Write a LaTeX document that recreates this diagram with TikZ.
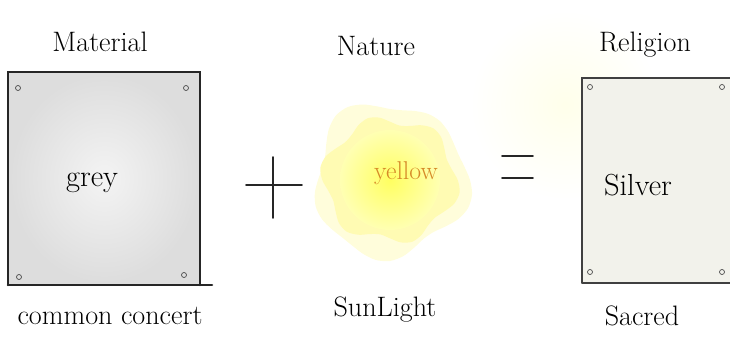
\documentclass[tikz,border=0pt]{standalone}
\usetikzlibrary{calc, positioning}

\definecolor{ochre}{RGB}{214,138,40}
\definecolor{paper}{RGB}{242,242,235}

\begin{document}
\begin{tikzpicture}[
    x=0.03cm, y=-0.03cm, % 1 unit = 1 pixel
    title/.style={font=\fontsize{24}{28}\selectfont, text=black},
    word/.style={font=\fontsize{26}{30}\selectfont, text=black},
    screw/.style={draw=black!70, line width=0.6pt},
    frame/.style={line width=2.2pt, black!85, line cap=round},
    thinframe/.style={line width=1.1pt, black!75, line cap=round},
    sign/.style={line width=1.4pt, black!85, line cap=round},
  ]

  \useasboundingbox (0,0) rectangle (730,340);

  % Glow
  \shade[inner color=yellow!8, outer color=white] (565,105) circle (95);

  % Material
  \coordinate (M1) at (8,72);
  \coordinate (M2) at (200,285);
  \shade[inner color=gray!9, outer color=gray!27] (M1) rectangle (M2);
  \draw[frame] (M1 |- M2) -- (M1) -- (M2 |- M1) -- (M2);
  \draw[frame] (M1 |- M2) -- ($(M2)+(12,0)$);
  \foreach \p in {(18,88),(186,88),(19,277),(184,275)}
    \draw[screw] \p circle (2.5);

  \node[title] (material) at (100,42) {Material};
  \node[word]  (grey)     at (92,183) {grey};
  \node[title] (common)   at (110,316) {common concert};

  % Plus
  \draw[sign] (246,185) -- (302,185);
  \draw[sign] (273,157) -- (273,218);

  % Nature
  \def\sx{390}
  \def\sy{180}
  \coordinate (S) at (\sx,\sy);
  \fill[yellow!14] plot[smooth cycle, domain=0:350, samples=36, variable=\t]
    ({\sx+(76+5*sin(5*\t)+4*cos(3*\t))*cos(\t)}, {\sy+(76+5*sin(5*\t)+4*cos(3*\t))*sin(\t)});
  \fill[yellow!30] plot[smooth cycle, domain=0:350, samples=36, variable=\t]
    ({\sx+(63+5*sin(6*\t+20)+3*cos(2*\t))*cos(\t)}, {\sy+(63+5*sin(6*\t+20)+3*cos(2*\t))*sin(\t)});
  \shade[inner color=yellow!62, outer color=yellow!30] (S) circle (50);

  \node[title] (nature)   at (376,46) {Nature};
  \node[word, font=\fontsize{22}{26}\selectfont, text=ochre] (yellow) at (406,173) {yellow};
  \node[title] (sunlight) at (385,310) {SunLight};

  % Equals
  \draw[sign] (502,156) -- (533,156);
  \draw[sign] (502,178) -- (533,178);

  % Religion
  \coordinate (R1) at (582,78);
  \coordinate (R2) at (735,283);
  \fill[paper] (R1) rectangle (R2);
  \draw[thinframe] (R1 |- R2) -- (R1) -- (R2 |- R1);
  \draw[thinframe] (R1 |- R2) -- (R2);
  \foreach \p in {(590,87),(722,87),(590,272),(722,272)}
    \draw[screw] \p circle (2.5);

  \node[title] (religion) at (645,45) {Religion};
  \node[word]  (silver)   at (638,185) {Silver};
  \node[title] (sacred)   at (642,316) {Sacred};

\end{tikzpicture}
\end{document}
